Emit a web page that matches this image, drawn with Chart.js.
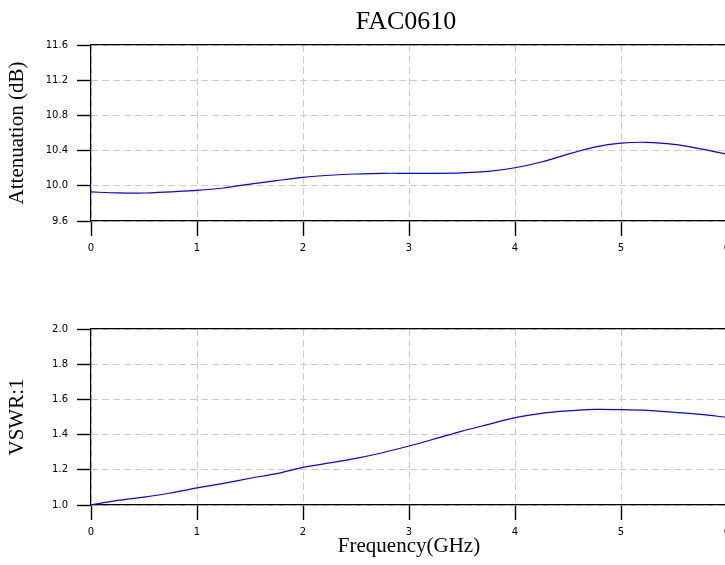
<!DOCTYPE html>
<html>
<head>
<meta charset="utf-8">
<script src="https://cdn.jsdelivr.net/npm/chart.js@4"></script>
<style>
  html, body { margin: 0; padding: 0; background: #fff; overflow: hidden; width: 725px; height: 565px; }
  .box { position: absolute; left: 0; }
  #topBox { top: 0; }
  #botBox { top: 290px; }
</style>
</head>
<body>
<div class="box" id="topBox"><canvas id="attChart" width="812" height="290"></canvas></div>
<div class="box" id="botBox"><canvas id="vswrChart" width="812" height="275"></canvas></div>
<script>
const freqs = [0, 0.25, 0.5, 0.75, 1, 1.25, 1.5, 1.75, 2, 2.25, 2.5, 2.75, 3,
  3.25, 3.5, 3.75, 4, 4.25, 4.5, 4.75, 5, 5.25, 5.5, 5.75, 6];
const attenuation = [9.93, 9.92, 9.918, 9.932, 9.948, 9.975, 10.02, 10.058, 10.096, 10.12, 10.134, 10.142, 10.142,
  10.142, 10.147, 10.163, 10.205, 10.27, 10.36, 10.44, 10.485, 10.494, 10.47, 10.42, 10.36];
const vswr = [1.0, 1.026, 1.045, 1.068, 1.097, 1.123, 1.152, 1.178, 1.214, 1.239, 1.265, 1.297, 1.335,
  1.377, 1.42, 1.458, 1.496, 1.521, 1.535, 1.543, 1.542, 1.538, 1.527, 1.515, 1.498];
const freqTicks = [0, 1, 2, 3, 4, 5, 6];
const attTicks = [9.6, 10.0, 10.4, 10.8, 11.2, 11.6];
const vswrTicks = [1.0, 1.2, 1.4, 1.6, 1.8, 2.0];

const tickFont = { family: 'DejaVu Sans', size: 10 };
const serif = 'Liberation Serif';

function xScale(height, showTitle) {
  return {
    type: 'linear',
    min: 0, max: 6,
    afterBuildTicks: s => { s.ticks = freqTicks.map(v => ({ value: v })); },
    afterFit: s => { s.height = height; },
    ticks: { color: '#000', font: tickFont, padding: 6, maxRotation: 0, callback: v => String(v) },
    grid: { color: '#cccccc', lineWidth: 1, tickLength: 15, tickWidth: 1.4, tickColor: '#000', tickBorderDash: [] },
    border: { color: '#000', width: 1.2, dash: [7, 4] },
    title: {
      display: showTitle, text: 'Frequency(GHz)', color: '#000',
      font: { family: serif, size: 21 }, padding: { top: 0, bottom: 6 }
    }
  };
}

function yScale(ticks, label) {
  return {
    type: 'linear',
    min: ticks[0], max: ticks[ticks.length - 1],
    afterBuildTicks: s => { s.ticks = ticks.map(v => ({ value: v })); },
    afterFit: s => { s.width = 91; },
    ticks: { color: '#000', font: tickFont, padding: 9, callback: v => v.toFixed(1) },
    grid: { color: '#cccccc', lineWidth: 1, tickLength: 14, tickWidth: 1.4, tickColor: '#000', tickBorderDash: [] },
    border: { color: '#000', width: 1.2, dash: [7, 4] },
    title: {
      display: true, text: label, color: '#000',
      font: { family: serif, size: 21 }, padding: { top: 5, bottom: 0 }
    }
  };
}

// plain black line along the top of each plot
const topEdge = {
  type: 'linear', position: 'top', min: 0, max: 6,
  afterFit: s => { s.height = 0; },
  ticks: { display: false },
  grid: { drawOnChartArea: false, drawTicks: false },
  border: { color: '#000', width: 1.2 }
};

// empty right-hand axis that only reserves room, so the plot ends at x = 6
const rightSpace = {
  type: 'linear', position: 'right',
  afterFit: s => { s.width = 85; },
  ticks: { display: false },
  grid: { display: false, drawTicks: false },
  border: { display: false }
};

function makeChart(id, values, ticks, label, opts) {
  return new Chart(document.getElementById(id), {
    type: 'line',
    data: {
      datasets: [{
        data: freqs.map((f, i) => ({ x: f, y: values[i] })),
        borderColor: '#0000ff',
        borderWidth: 1.2,
        pointRadius: 0,
        tension: 0.25,
        fill: false
      }]
    },
    options: {
      responsive: false,
      animation: false,
      layout: { padding: { left: 0, right: 0, top: opts.padTop, bottom: 0 } },
      scales: {
        x: xScale(opts.xHeight, opts.xTitle),
        x2: topEdge,
        y: yScale(ticks, label),
        y2: rightSpace
      },
      plugins: {
        legend: { display: false },
        tooltip: { enabled: false },
        title: {
          display: !!opts.title, text: opts.title || '', color: '#000',
          font: { family: serif, size: 26, weight: 'normal' },
          padding: { top: 6.4, bottom: 7.4 }
        }
      }
    }
  });
}

makeChart('attChart', attenuation, attTicks, 'Attenuation (dB)', { title: 'FAC0610', padTop: 0, xHeight: 69, xTitle: false });
makeChart('vswrChart', vswr, vswrTicks, 'VSWR:1', { padTop: 39, xHeight: 60, xTitle: true });
</script>
</body>
</html>
